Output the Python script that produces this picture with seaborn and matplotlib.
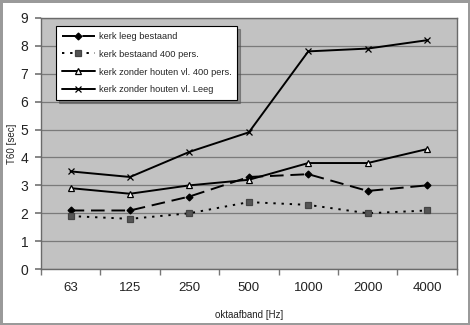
import numpy as np
import pandas as pd
import matplotlib
matplotlib.use("Agg")
import matplotlib.pyplot as plt
import seaborn as sns

categories = ["63", "125", "250", "500", "1000", "2000", "4000"]
leeg_bestaand = [2.1, 2.1, 2.6, 3.3, 3.4, 2.8, 3.0]
bestaand_400 = [1.9, 1.8, 2.0, 2.4, 2.3, 2.0, 2.1]
zonder_400 = [2.9, 2.7, 3.0, 3.2, 3.8, 3.8, 4.3]
zonder_leeg = [3.5, 3.3, 4.2, 4.9, 7.8, 7.9, 8.2]
series_names = ["kerk leeg bestaand", "kerk bestaand 400 pers.",
                "kerk zonder houten vl. 400 pers.", "kerk zonder houten vl. Leeg"]
yticks = list(range(0, 10))

sns.set_theme(style="white")
plt.rcParams['font.family'] = ['Liberation Sans', 'DejaVu Sans']

fig = plt.figure(figsize=(4.7, 3.25), dpi=100)
fig.patch.set_facecolor("white")
fig.patch.set_edgecolor("#9a9a9a")
fig.patch.set_linewidth(2.5)
ax = fig.add_axes([0.087, 0.172, 0.885, 0.773])
ax.set_facecolor("#c2c2c2")

pos = np.arange(len(categories))
styles = [
    dict(ls=(0, (7, 3.5)), marker="D", ms=3.5, mfc="black", mec="black"),
    dict(ls=(0, (1.2, 3)), marker="s", ms=5, mfc="#555555", mec="#444444"),
    dict(ls="-", marker="^", ms=4.5, mfc="white", mec="black"),
    dict(ls="-", marker="x", ms=5, mfc="black", mec="black"),
]
data = [leeg_bestaand, bestaand_400, zonder_400, zonder_leeg]
for name, vals, st in zip(series_names, data, styles):
    df = pd.DataFrame({"x": pos, "y": vals})
    sns.lineplot(data=df, x="x", y="y", ax=ax, color="black", lw=1.4,
                 linestyle=st["ls"], marker=st["marker"], markersize=st["ms"],
                 markerfacecolor=st["mfc"], markeredgecolor=st["mec"],
                 markeredgewidth=0.9, label=name, zorder=3)

ax.set_xlim(-0.5, len(categories) - 0.5)
ax.set_ylim(0, 9)
ax.set_yticks(yticks)
ax.set_yticklabels([str(t) for t in yticks], fontsize=10, color="#222222")
ax.set_xticks(pos)
ax.set_xticklabels(categories, fontsize=9.5, color="#222222")
ax.set_xticks(np.arange(-0.5, len(categories) + 0.5, 1), minor=True)
ax.tick_params(axis="x", which="major", length=0, pad=9)
ax.tick_params(axis="x", which="minor", length=4, color="#777777", direction="out", bottom=True)
ax.tick_params(axis="y", length=4, color="#777777", direction="out", left=True, pad=5)
ax.yaxis.grid(True, color="#7a7a7a", lw=0.9)
ax.set_axisbelow(True)
for s in ax.spines.values():
    s.set_color("#6a6a6a")
    s.set_linewidth(1.0)

ax.set_xlabel("oktaafband [Hz]", fontsize=7, color="#222222")
ax.set_ylabel("T60 [sec]", fontsize=7, color="#222222")
ax.xaxis.set_label_coords(0.5, -0.163)
ax.yaxis.set_label_coords(-0.058, 0.5)

leg = ax.legend(loc="upper left", bbox_to_anchor=(0.025, 0.985), fontsize=6.7,
                frameon=True, fancybox=False, shadow=True, framealpha=1,
                handlelength=3.6, handletextpad=0.4, labelspacing=0.95,
                borderpad=0.6)
leg.get_frame().set_edgecolor("black")
leg.get_frame().set_linewidth(0.8)

fig.savefig("out.png", dpi=100, facecolor=fig.get_facecolor(), edgecolor=fig.get_edgecolor())
